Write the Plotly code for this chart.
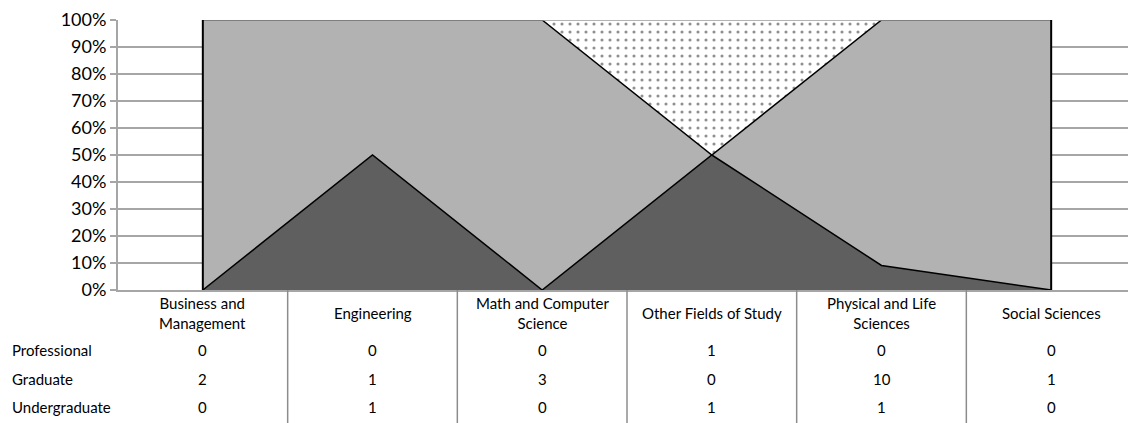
import plotly.graph_objects as go

categories = ["Business and<br>Management", "Engineering", "Math and Computer<br>Science",
              "Other Fields of Study", "Physical and Life<br>Sciences", "Social Sciences"]
series_names = ["Professional", "Graduate", "Undergraduate"]
professional = [0, 0, 0, 1, 0, 0]
graduate = [2, 1, 3, 0, 10, 1]
undergraduate = [0, 1, 0, 1, 1, 0]
y_ticks = list(range(0, 101, 10))

FONT = "Lato, 'Open Sans', sans-serif"
xs = list(range(len(categories)))

fig = go.Figure()
fig.add_trace(go.Scatter(x=xs, y=undergraduate, name="Undergraduate", mode="lines",
                         stackgroup="one", groupnorm="percent",
                         line=dict(color="black", width=1.5),
                         fillcolor="#5f5f5f"))
fig.add_trace(go.Scatter(x=xs, y=graduate, name="Graduate", mode="lines",
                         stackgroup="one",
                         line=dict(color="black", width=1.5),
                         fillcolor="#b2b2b2"))
fig.add_trace(go.Scatter(x=xs, y=professional, name="Professional", mode="lines",
                         stackgroup="one",
                         line=dict(color="#9a9a9a", width=1.5),
                         fillcolor="white",
                         fillpattern=dict(shape=".", fgcolor="#222222", bgcolor="white",
                                          size=8, solidity=0.12)))
# left and right outline edges of the area
for xi in (xs[0], xs[-1]):
    fig.add_trace(go.Scatter(x=[xi, xi], y=[0, 100], mode="lines",
                             line=dict(color="black", width=2), showlegend=False,
                             hoverinfo="skip"))

# data table (plot area is 273 px tall)
row_y = [-0.223, -0.330, -0.432]
rows = [professional, graduate, undergraduate]
TF = dict(family=FONT, size=15, color="black")
for name, vals, ry in zip(series_names, rows, row_y):
    fig.add_annotation(x=0, xref="paper", y=ry, yref="paper", text=name,
                       showarrow=False, xanchor="left", yanchor="middle", xshift=-108, font=TF)
    for i, v in enumerate(vals):
        fig.add_annotation(x=i, xref="x", y=ry, yref="paper", text=str(v),
                           showarrow=False, yanchor="middle", font=TF)
for i, c in enumerate(categories):
    fig.add_annotation(x=i, xref="x", y=-0.084, yref="paper", text=c, yanchor="middle",
                       showarrow=False, font=TF)
for i in range(len(categories) - 1):
    fig.add_shape(type="line", xref="x", yref="paper", x0=i + 0.5, x1=i + 0.5,
                  y0=0, y1=-0.5, line=dict(color="#8c8c8c", width=1.5))

fig.update_layout(
    width=1128, height=415,
    margin=dict(l=110, r=0, t=9, b=133),
    paper_bgcolor="white", plot_bgcolor="white",
    showlegend=False,
    font=dict(family=FONT, color="black"),
    xaxis=dict(range=[-0.5, 5.5], showticklabels=False, showgrid=False, zeroline=False,
               showline=True, linecolor="#a6a6a6", linewidth=2, ticks=""),
    yaxis=dict(range=[0, 100], tickvals=y_ticks, ticktext=[f"{v}%" for v in y_ticks],
               showgrid=True, ticklabeloverflow="allow",
               gridcolor="#a6a6a6", gridwidth=2, zeroline=False, showline=True,
               linecolor="#a6a6a6", linewidth=2, ticks="outside", ticklen=6,
               tickcolor="#a6a6a6", tickwidth=2,
               tickfont=dict(family=FONT, size=18, color="black")),
)
fig.write_html("out.html")
